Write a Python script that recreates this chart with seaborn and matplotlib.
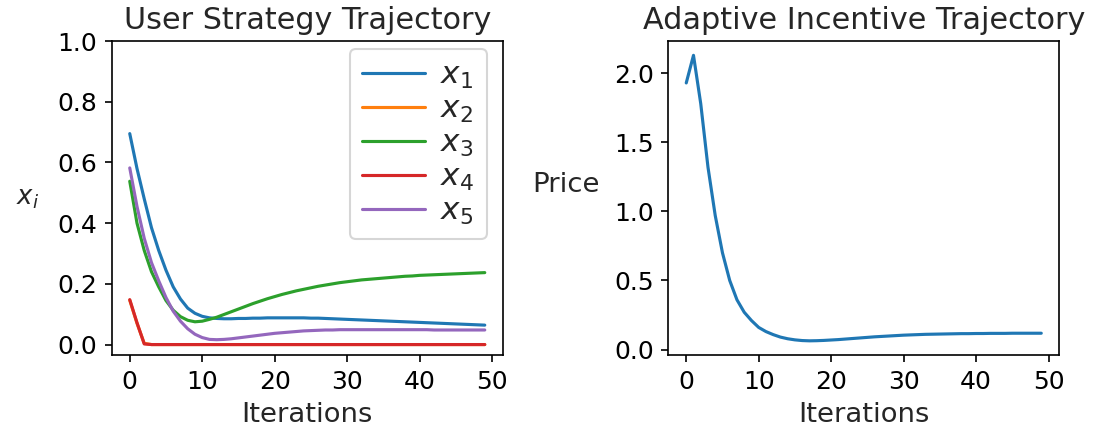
import numpy as np
import pandas as pd
import matplotlib
matplotlib.use("Agg")
import matplotlib.pyplot as plt
import seaborn as sns

# --- data (50 iterations) ---
iterations = list(range(50))

x1 = [0.695, 0.58, 0.48, 0.385, 0.31, 0.245, 0.19, 0.15, 0.12, 0.103,
      0.093, 0.088, 0.086, 0.085, 0.085, 0.086, 0.086, 0.087, 0.087, 0.088,
      0.088, 0.088, 0.088, 0.088, 0.088, 0.087, 0.087, 0.086, 0.085, 0.084,
      0.083, 0.082, 0.081, 0.080, 0.079, 0.078, 0.077, 0.076, 0.075, 0.074,
      0.073, 0.072, 0.071, 0.070, 0.069, 0.068, 0.067, 0.066, 0.065, 0.064]

x2 = [0.146, 0.070, 0.004] + [0.0] * 47

x3 = [0.538, 0.40, 0.31, 0.24, 0.19, 0.145, 0.113, 0.092, 0.080, 0.075,
      0.077, 0.083, 0.090, 0.099, 0.108, 0.117, 0.126, 0.135, 0.143, 0.151,
      0.158, 0.165, 0.171, 0.177, 0.182, 0.187, 0.192, 0.196, 0.200, 0.204,
      0.207, 0.210, 0.213, 0.215, 0.217, 0.219, 0.221, 0.223, 0.225, 0.226,
      0.228, 0.229, 0.230, 0.231, 0.232, 0.233, 0.234, 0.235, 0.236, 0.237]

x4 = [0.148, 0.072, 0.002] + [0.0] * 47

x5 = [0.582, 0.455, 0.35, 0.27, 0.21, 0.155, 0.11, 0.077, 0.052, 0.034,
      0.023, 0.017, 0.016, 0.017, 0.019, 0.022, 0.025, 0.028, 0.031, 0.034,
      0.037, 0.039, 0.041, 0.043, 0.045, 0.046, 0.047, 0.048, 0.048, 0.049,
      0.049, 0.049, 0.049, 0.049, 0.049, 0.049, 0.049, 0.049, 0.049, 0.049,
      0.049, 0.049, 0.048, 0.048, 0.048, 0.048, 0.048, 0.048, 0.048, 0.048]

price = [1.93, 2.13, 1.78, 1.32, 0.97, 0.70, 0.50, 0.36, 0.27, 0.21,
         0.16, 0.13, 0.108, 0.09, 0.078, 0.07, 0.065, 0.063, 0.064, 0.066,
         0.069, 0.072, 0.076, 0.080, 0.084, 0.088, 0.092, 0.095, 0.098, 0.101,
         0.104, 0.106, 0.108, 0.110, 0.111, 0.112, 0.113, 0.114, 0.115, 0.115,
         0.116, 0.116, 0.117, 0.117, 0.117, 0.118, 0.118, 0.118, 0.118, 0.118]

labels = ["$x_1$", "$x_2$", "$x_3$", "$x_4$", "$x_5$"]
colors = ["#1f77b4", "#ff7f0e", "#2ca02c", "#d62728", "#9467bd"]

# long-form table for seaborn
users = pd.DataFrame({
    "Iterations": iterations * 5,
    "value": x1 + x2 + x3 + x4 + x5,
    "user": np.repeat(labels, len(iterations)),
})
incentive = pd.DataFrame({"Iterations": iterations, "Price": price})

sns.set_style("ticks")
plt.rcParams["font.family"] = ["DejaVu Sans"]
plt.rcParams["font.size"] = 12

fig, (ax1, ax2) = plt.subplots(1, 2, figsize=(7.32, 2.88), dpi=150)
fig.subplots_adjust(left=0.102, right=0.9645, bottom=0.178, top=0.905, wspace=0.425)

# left panel: user strategies
sns.lineplot(data=users, x="Iterations", y="value", hue="user",
             palette=colors, linewidth=1.5, ax=ax1)
ax1.set_ylim(top=1.0)
ax1.set_title("User Strategy Trajectory", fontsize=14.5)
ax1.set_xlabel("Iterations", fontsize=13.2)
ax1.set_ylabel("$x_i$", fontsize=12.5, rotation=0, ha="right", va="center", labelpad=9)
ax1.set_xticks([0, 10, 20, 30, 40, 50])
ax1.legend(loc="upper right", bbox_to_anchor=(0.96, 0.975), borderaxespad=0,
           fontsize=15, title=None, labelspacing=0.12, handletextpad=0.5)

# right panel: incentive price
sns.lineplot(data=incentive, x="Iterations", y="Price", color=colors[0],
             linewidth=1.5, ax=ax2)
ax2.set_title("Adaptive Incentive Trajectory", fontsize=14.5)
ax2.set_xlabel("Iterations", fontsize=13.2)
ax2.set_ylabel("Price", fontsize=13.2, rotation=0, ha="right", va="bottom", labelpad=7)
ax2.set_xticks([0, 10, 20, 30, 40, 50])
ax2.set_yticks([0.0, 0.5, 1.0, 1.5, 2.0])

for ax in (ax1, ax2):
    for side in ax.spines.values():
        side.set_visible(True)
        side.set_color("black")
        side.set_linewidth(0.8)
    ax.tick_params(colors="black", labelsize=12)

plt.savefig("out.png", dpi=150)
